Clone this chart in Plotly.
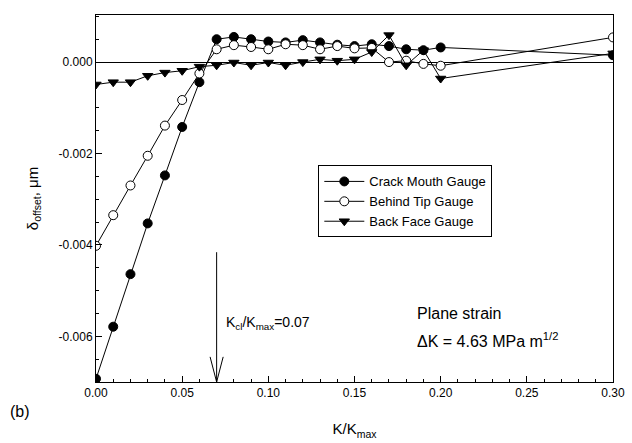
import plotly.graph_objects as go

k_ratio = [0.00, 0.01, 0.02, 0.03, 0.04, 0.05, 0.06, 0.07, 0.08, 0.09, 0.10,
           0.11, 0.12, 0.13, 0.14, 0.15, 0.16, 0.17, 0.18, 0.19, 0.20, 0.30]

crack_mouth = [-0.00693, -0.00579, -0.00464, -0.00353, -0.00248, -0.00142, -0.00044,
               0.00050, 0.00055, 0.00050, 0.00045, 0.00043, 0.00048, 0.00043,
               0.00038, 0.00035, 0.00039, 0.00035, 0.00028, 0.00026, 0.00032, 0.00015]

behind_tip = [-0.00402, -0.00335, -0.00270, -0.00205, -0.00139, -0.00083, -0.00025,
              0.00028, 0.00037, 0.00033, 0.00028, 0.00039, 0.00037, 0.00028,
              0.00035, 0.00030, 0.00031, 0.00000, 0.00003, -0.00004, -0.00008, 0.00054]

back_face = [-0.00049, -0.00044, -0.00044, -0.00030, -0.00023, -0.00019, -0.00010,
             -0.00007, -0.00001, -0.00007, -0.00001, -0.00007, 0.00000, 0.00006,
             0.00003, 0.00006, 0.00022, 0.00059, -0.00007, 0.00026, -0.00036, 0.00019]

x_ticks = [0.00, 0.05, 0.10, 0.15, 0.20, 0.25, 0.30]
x_ticklabels = ["0.00", "0.05", "0.10", "0.15", "0.20", "0.25", "0.30"]
y_ticks = [0.000, -0.002, -0.004, -0.006]
y_ticklabels = ["0.000", "-0.002", "-0.004", "-0.006"]

k_cl = 0.07

font = "Arial, Liberation Sans, sans-serif"

fig = go.Figure()
fig.add_trace(go.Scatter(x=k_ratio, y=crack_mouth, mode="lines+markers",
                         name="Crack Mouth Gauge",
                         line=dict(color="black", width=1),
                         marker=dict(symbol="circle", size=9, color="black",
                                     line=dict(color="black", width=1))))
fig.add_trace(go.Scatter(x=k_ratio, y=behind_tip, mode="lines+markers",
                         name="Behind Tip Gauge",
                         line=dict(color="black", width=1),
                         marker=dict(symbol="circle", size=9, color="white",
                                     line=dict(color="black", width=1))))
fig.add_trace(go.Scatter(x=k_ratio, y=back_face, mode="lines+markers",
                         name="Back Face Gauge",
                         line=dict(color="black", width=1),
                         marker=dict(symbol="triangle-down", size=9, color="black",
                                     line=dict(color="black", width=1))))

# arrow at K_cl/K_max
fig.add_trace(go.Scatter(x=[k_cl, k_cl], y=[-0.00416, -0.007], mode="lines",
                         line=dict(color="black", width=1), showlegend=False,
                         hoverinfo="skip"))
fig.add_trace(go.Scatter(x=[k_cl - 0.0038, k_cl, k_cl + 0.0038],
                         y=[-0.00645, -0.007, -0.00645], mode="lines",
                         line=dict(color="black", width=1), showlegend=False,
                         hoverinfo="skip"))

fig.update_layout(
    width=632, height=443,
    margin=dict(l=96, r=19, t=15, b=61),
    paper_bgcolor="white", plot_bgcolor="white",
    font=dict(family=font, color="black", size=12),
    showlegend=True,
    legend=dict(x=0.43, y=0.59, xanchor="left", yanchor="top",
                bordercolor="black", borderwidth=1, bgcolor="white",
                font=dict(size=13, family=font), tracegroupgap=0,
                itemwidth=40),
    xaxis=dict(range=[0, 0.30], tickvals=x_ticks, ticktext=x_ticklabels,
               showline=True, linecolor="black", linewidth=1, mirror=True,
               ticks="inside", ticklen=6, tickcolor="black",
               minor=dict(dtick=0.01, ticks="inside", ticklen=3, tickcolor="black"),
               showgrid=False, zeroline=False, automargin=False,
               tickfont=dict(size=12),
               title=dict(text="K/K<sub>max</sub>", font=dict(size=15), standoff=24)),
    yaxis=dict(range=[-0.007, 0.00103], tickvals=y_ticks, ticktext=y_ticklabels,
               showline=True, linecolor="black", linewidth=1, mirror=True,
               ticks="inside", ticklen=6, tickcolor="black",
               minor=dict(dtick=0.0005, tick0=0, ticks="inside", ticklen=3,
                          tickcolor="black"),
               showgrid=False, zeroline=True, zerolinecolor="black", zerolinewidth=1,
               automargin=False,
               tickfont=dict(size=12),
               title=dict(text="δ<sub>offset</sub>, μm", font=dict(size=15), standoff=16)),
    annotations=[
        dict(x=0.0745, y=-0.0057, xref="x", yref="y", xanchor="left", yanchor="middle",
             text="K<sub>cl</sub>/K<sub>max</sub>=0.07", showarrow=False,
             font=dict(size=14)),
        dict(x=0.185, y=-0.0055, xref="x", yref="y", xanchor="left", yanchor="middle",
             text="Plane strain", showarrow=False, font=dict(size=16)),
        dict(x=0.185, y=-0.00607, xref="x", yref="y", xanchor="left", yanchor="middle",
             text="ΔK = 4.63 MPa m<sup>1/2</sup>", showarrow=False, font=dict(size=16)),
        dict(x=-0.17, y=-0.08, xref="paper", yref="paper", showarrow=False,
             text="(b)", font=dict(size=16), xanchor="left", yanchor="middle"),
    ],
)

fig.write_html("out.html")
